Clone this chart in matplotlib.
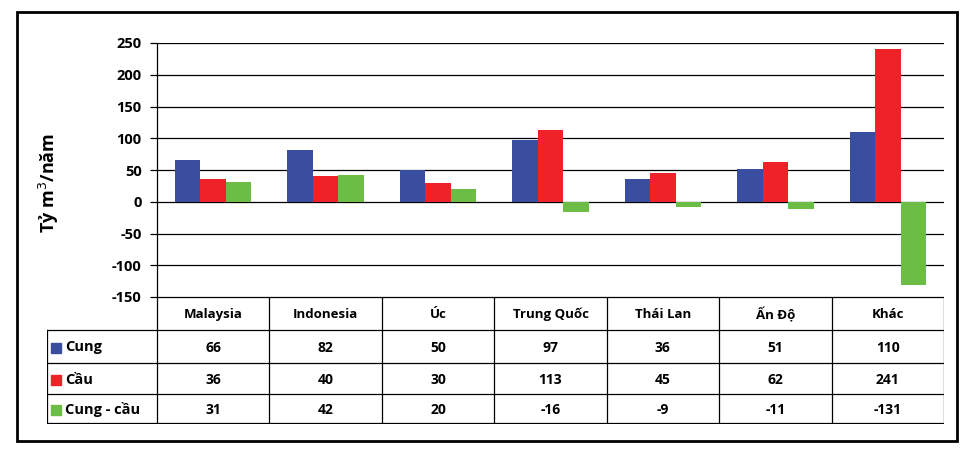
import numpy as np
import matplotlib.pyplot as plt
from matplotlib.patches import Rectangle

plt.rcParams['font.family'] = ['Open Sans', 'DejaVu Sans']

# data
countries = ['Malaysia', 'Indonesia', 'Úc', 'Trung Quốc', 'Thái Lan', 'Ấn Độ', 'Khác']
cung = [66, 82, 50, 97, 36, 51, 110]
cau = [36, 40, 30, 113, 45, 62, 241]
cung_cau = [31, 42, 20, -16, -9, -11, -131]
series_names = ['Cung', 'Cầu', 'Cung - cầu']
colors = ['#3A4EA0', '#EE2227', '#6BBD45']
yticks = [250, 200, 150, 100, 50, 0, -50, -100, -150]

W, H = 969, 455
fig = plt.figure(figsize=(W / 100, H / 100), dpi=100)

def px_box(x0, y0, x1, y1):
    # pixel box (top-left origin) -> figure fraction rect
    return [x0 / W, 1 - y1 / H, (x1 - x0) / W, (y1 - y0) / H]

# outer frame
fig.patches.append(Rectangle((17 / W, 1 - 441 / H), (957 - 17) / W, (441 - 12) / H,
                             transform=fig.transFigure, fill=False, lw=2, ec='black'))

# bar chart
ax = fig.add_axes(px_box(157, 43, 944, 297))
n = len(countries)
x = np.arange(n)
bw = 0.227
series = [cung, cau, cung_cau]
for i, vals in enumerate(series):
    ax.bar(x + (i - 1) * bw, vals, width=bw, color=colors[i], zorder=3)
ax.set_xlim(-0.5, n - 0.5)
ax.set_ylim(-150, 250)
ax.set_yticks(yticks)
ax.set_yticklabels([str(t) for t in yticks], fontsize=10.5, fontweight='bold')
ax.yaxis.grid(True, color='black', lw=0.9, zorder=0)
ax.set_xticks([])
for s in ['top', 'right', 'bottom']:
    ax.spines[s].set_visible(False)
ax.spines['left'].set_linewidth(0.9)
ax.tick_params(axis='y', length=5, width=0.9, pad=6)
ax.set_ylabel('Tỷ m$^3$/năm', fontsize=13, fontweight='bold')
ax.yaxis.set_label_coords(-0.122, 0.45)

# data table below
tx = fig.add_axes(px_box(47, 297, 944, 424))
tx.set_xlim(47, 944)
tx.set_ylim(424, 297)
tx.axis('off')
cols = [157 + 112.43 * k for k in range(n + 1)]
rows = [297, 330, 363, 394, 423]
lw = 0.9
for c in cols:
    tx.plot([c, c], [rows[0], rows[-1]], color='black', lw=lw)
tx.plot([47, 47], [rows[1], rows[-1]], color='black', lw=lw)
for r in rows[1:]:
    tx.plot([47, 944], [r, r], color='black', lw=lw)
tx.plot([157, 944], [rows[0], rows[0]], color='black', lw=lw)

for k, name in enumerate(countries):
    tx.text((cols[k] + cols[k + 1]) / 2, (rows[0] + rows[1]) / 2 + 1, name,
            ha='center', va='center', fontsize=9.5, fontweight='bold')
for i, vals in enumerate(series):
    yc = (rows[i + 1] + rows[i + 2]) / 2 + 1
    tx.add_patch(Rectangle((51, yc - 5), 10, 10, color=colors[i]))
    tx.text(65, yc, series_names[i], ha='left', va='center', fontsize=10.5, fontweight='bold')
    for k, v in enumerate(vals):
        tx.text((cols[k] + cols[k + 1]) / 2, yc, str(v), ha='center', va='center',
                fontsize=10, fontweight='bold')

plt.savefig('out.png', dpi=100)
